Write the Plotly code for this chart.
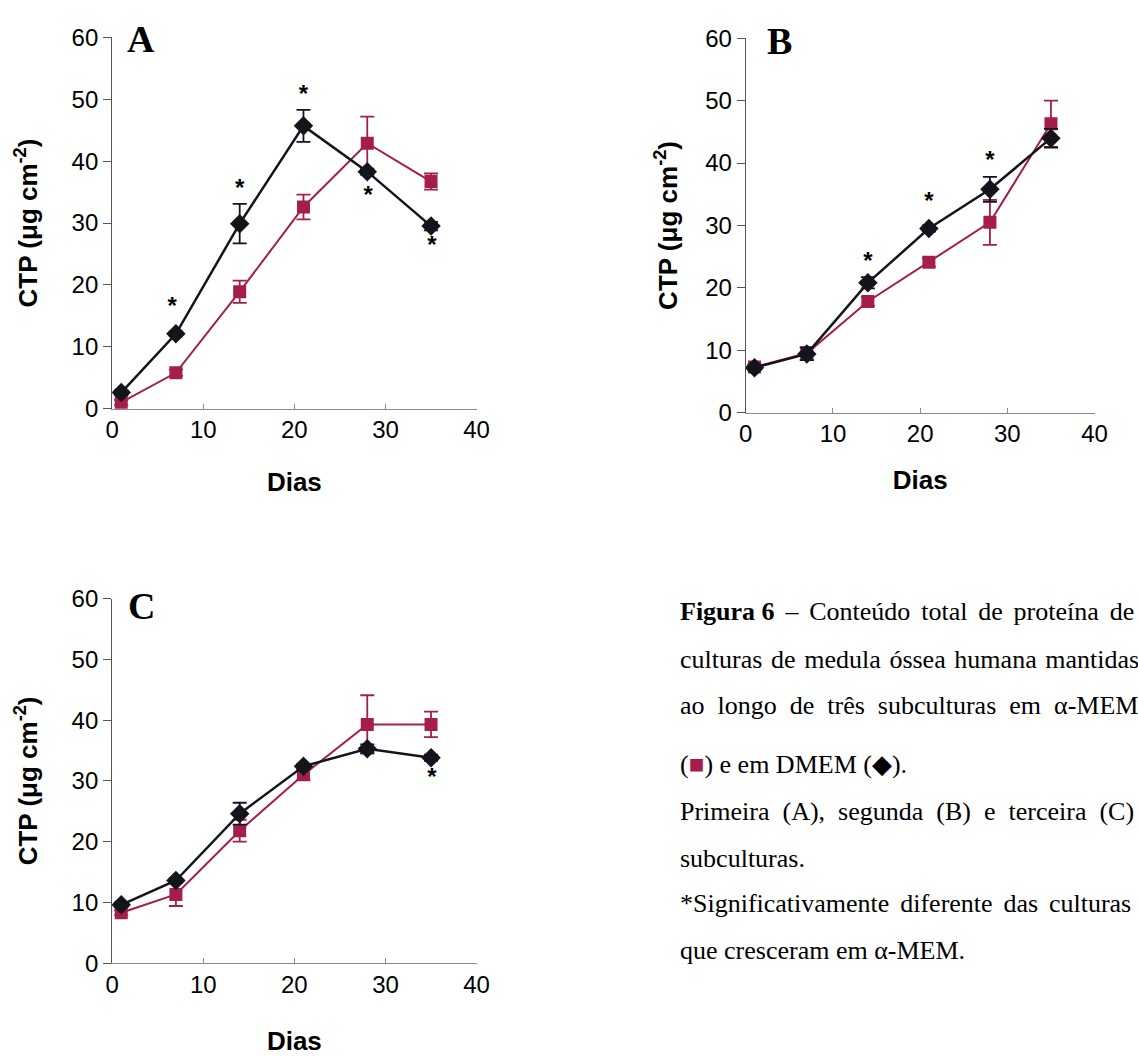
import plotly.graph_objects as go

days = [1, 7, 14, 21, 28, 35]

# Panel A
a_dmem = [2.6, 12.1, 29.9, 45.7, 38.3, 29.5]
a_dmem_err = [0.4, 0.4, 3.2, 2.6, 0.5, 0.7]
a_amem = [1.0, 5.8, 18.9, 32.6, 42.9, 36.7]
a_amem_err = [0.4, 0.5, 1.8, 2.0, 4.3, 1.3]
a_star_x = [6.6, 14.0, 21.0, 28.1, 35.1]
a_star_y = [16.2, 35.4, 50.6, 34.2, 26.2]

# Panel B
b_dmem = [7.2, 9.4, 20.8, 29.5, 35.8, 44.0]
b_dmem_err = [0.4, 1.0, 0.9, 0.5, 2.0, 1.5]
b_amem = [7.3, 9.5, 17.8, 24.1, 30.5, 46.3]
b_amem_err = [0.4, 1.0, 0.7, 0.7, 3.6, 3.7]
b_star_x = [14.0, 21.0, 28.0]
b_star_y = [23.9, 33.6, 40.2]

# Panel C
c_dmem = [9.6, 13.6, 24.6, 32.4, 35.3, 33.8]
c_dmem_err = [0.4, 0.4, 1.8, 0.4, 0.7, 0.5]
c_amem = [8.3, 11.3, 21.8, 31.0, 39.3, 39.3]
c_amem_err = [0.4, 1.9, 1.8, 0.8, 4.8, 2.1]
c_star_x = [35.1]
c_star_y = [30.3]

x_ticks = [0, 10, 20, 30, 40]
y_ticks = [0, 10, 20, 30, 40, 50, 60]
panel_letters = ["A", "B", "C"]

caption_lines = [
    "<b>Figura 6</b> – Conteúdo total de proteína de",
    "culturas de medula óssea humana mantidas",
    "ao longo de três subculturas em α-MEM",
    "(<span style='color:#A51E4B'>■</span>) e em DMEM (◆).",
    "Primeira (A), segunda (B) e terceira (C)",
    "subculturas.",
    "*Significativamente diferente das culturas",
    "que cresceram em α-MEM.",
]
caption_y = [613, 662, 710, 770, 818, 867, 913, 961]
# extra inter-word spacing to imitate the justified paragraph
caption_gap = ["\u2006", "\u200a", "\u2005", "", "\u2005", "", "\u2006", ""]

RED = "#A51E4B"
BLK = "#14141c"
W, H = 1138, 1056

fig = go.Figure()

panels = [
    (a_dmem, a_dmem_err, a_amem, a_amem_err, a_star_x, a_star_y),
    (b_dmem, b_dmem_err, b_amem, b_amem_err, b_star_x, b_star_y),
    (c_dmem, c_dmem_err, c_amem, c_amem_err, c_star_x, c_star_y),
]
# pixel boxes (left, right, top, bottom)
boxes = [(107, 478, 24, 405), (752, 1107, 25, 409), (107, 478, 600, 974)]
letter_off = [(13, 2), (20, 3), (14, 8)]
ytitle_standoff = [26, 20, 26]
xtitle_standoff = [30, 24, 34]

for i, (dm, dme, am, ame, sx, sy) in enumerate(panels):
    n = "" if i == 0 else str(i + 1)
    xa, ya = "x" + n, "y" + n
    fig.add_trace(go.Scatter(
        x=days, y=am, xaxis=xa, yaxis=ya, mode="lines+markers",
        line=dict(color=RED, width=2),
        marker=dict(symbol="square", size=13, color=RED),
        error_y=dict(type="data", array=ame, color=RED, thickness=1.8, width=7),
        showlegend=False))
    fig.add_trace(go.Scatter(
        x=days, y=dm, xaxis=xa, yaxis=ya, mode="lines+markers",
        line=dict(color=BLK, width=2.5),
        marker=dict(symbol="diamond", size=15, color=BLK),
        error_y=dict(type="data", array=dme, color=BLK, thickness=1.8, width=7),
        showlegend=False))
    fig.add_trace(go.Scatter(
        x=sx, y=sy, xaxis=xa, yaxis=ya, mode="text", text=["<b>*</b>"] * len(sx),
        textfont=dict(family="Liberation Sans", size=24, color="black"),
        textposition="middle center", showlegend=False))

    l, r, t, b = boxes[i]
    xd = [l / W, r / W]
    yd = [1 - b / H, 1 - t / H]
    fig.update_layout(**{
        ("xaxis" + n): dict(
            domain=xd, range=[0, 40], tickvals=x_ticks, anchor=ya,
            showgrid=False, zeroline=False, showline=True, linecolor="#8a8a8a",
            linewidth=1, ticks="inside", ticklen=5, tickcolor="#8a8a8a",
            tickfont=dict(family="Liberation Sans", size=24, color="black"),
            title=dict(text="<b>Dias</b>", standoff=xtitle_standoff[i],
                       font=dict(family="Liberation Sans", size=26, color="black"))),
        ("yaxis" + n): dict(
            domain=yd, range=[0, 60], tickvals=y_ticks, anchor=xa,
            showgrid=False, zeroline=False, showline=True, linecolor="#555555",
            linewidth=1, ticks="outside", ticklen=8, tickcolor="#555555",
            tickfont=dict(family="Liberation Sans", size=24, color="black"),
            title=dict(text="<b>CTP (μg cm<sup>-2</sup>)</b>", standoff=ytitle_standoff[i],
                       font=dict(family="Liberation Sans", size=26, color="black"))),
    })
    ox, oy = letter_off[i]
    fig.add_annotation(
        x=(l + ox) / W, y=1 - (t + oy) / H, xref="paper", yref="paper",
        text="<b>" + panel_letters[i] + "</b>", showarrow=False,
        xanchor="left", yanchor="middle",
        font=dict(family="Liberation Serif", size=38, color="black"))

for k, line in enumerate(caption_lines):
    txt = line
    if caption_gap[k]:
        parts = line.split("</b>")
        parts[-1] = parts[-1].replace(" ", " " + caption_gap[k])
        txt = "</b>".join(parts)
    fig.add_annotation(
        x=683 / W, y=1 - caption_y[k] / H, xref="paper", yref="paper",
        text=txt, showarrow=False, xanchor="left", yanchor="middle",
        font=dict(family="Liberation Serif", size=26, color="black"))

fig.update_layout(
    width=W, height=H, margin=dict(l=0, r=0, t=0, b=0),
    paper_bgcolor="white", plot_bgcolor="white",
)

fig.write_html("out.html")
